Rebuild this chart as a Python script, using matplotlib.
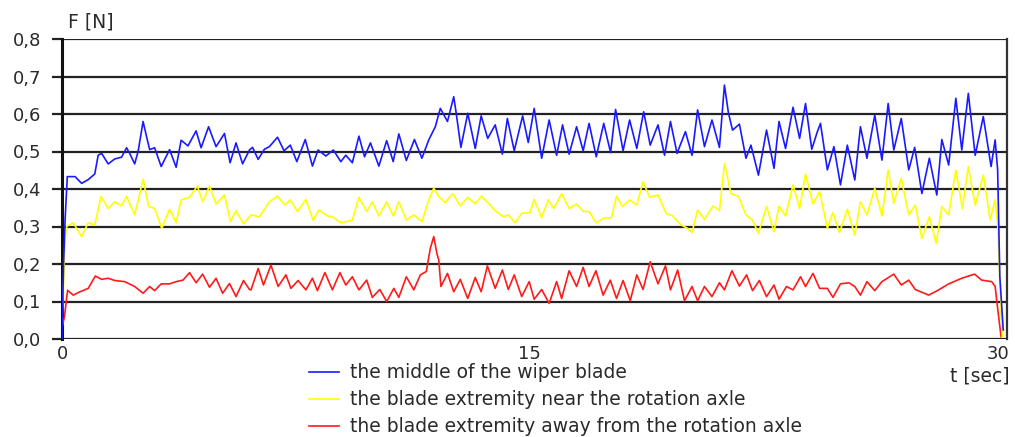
import matplotlib
matplotlib.use("Agg")
import matplotlib.pyplot as plt
from matplotlib.ticker import FuncFormatter

plt.rcParams["font.family"] = ["DejaVu Sans"]

# ── data: time [s] and force [N] ────────────────────────────────────────────
t_mid = [0.0, 0.05, 0.10, 0.17, 0.42, 0.63, 0.84, 1.05, 1.16, 1.27, 1.48, 1.69, 1.91,
         2.07, 2.17, 2.33, 2.44, 2.60, 2.71, 2.81, 2.97, 3.18, 3.45, 3.66, 3.82, 4.04,
         4.30, 4.46, 4.70, 4.94, 5.21, 5.39, 5.58, 5.79, 6.01, 6.11, 6.29, 6.49, 6.65,
         6.91, 7.12, 7.32, 7.53, 7.80, 8.03, 8.21, 8.46, 8.70, 8.94, 9.10, 9.31, 9.52,
         9.70, 9.89, 10.16, 10.41, 10.62, 10.80, 11.04, 11.30, 11.54, 11.76, 11.97,
         12.13, 12.36, 12.56, 12.64, 12.79, 13.01, 13.25, 13.44, 13.65, 13.89, 14.12,
         14.28, 14.50, 14.77, 14.95, 15.14, 15.38, 15.62, 15.86, 16.05, 16.26, 16.50,
         16.71, 16.90, 17.13, 17.37, 17.59, 17.75, 17.99, 18.20, 18.43, 18.65, 18.86,
         19.11, 19.32, 19.51, 19.72, 19.99, 20.20, 20.38, 20.60, 20.84, 21.08, 21.24,
         21.37, 21.50, 21.72, 21.93, 22.09, 22.33, 22.59, 22.83, 22.99, 23.20, 23.44,
         23.65, 23.84, 24.04, 24.22, 24.32, 24.54, 24.75, 24.96, 25.18, 25.42, 25.60,
         25.81, 26.06, 26.29, 26.49, 26.67, 26.91, 27.15, 27.34, 27.57, 27.81, 28.05,
         28.21, 28.43, 28.66, 28.85, 29.06, 29.28, 29.54, 29.79, 29.92, 30.00, 30.07,
         30.18]
f_mid = [0.0, 0.20, 0.32, 0.433, 0.433, 0.415, 0.425, 0.44, 0.49, 0.495, 0.467, 0.48,
         0.485, 0.51, 0.495, 0.467, 0.50, 0.58, 0.54, 0.505, 0.51, 0.46, 0.505, 0.458,
         0.53, 0.515, 0.555, 0.51, 0.566, 0.513, 0.548, 0.47, 0.523, 0.467, 0.504,
         0.511, 0.479, 0.506, 0.513, 0.538, 0.502, 0.517, 0.473, 0.532, 0.461, 0.504,
         0.488, 0.504, 0.473, 0.49, 0.47, 0.541, 0.486, 0.523, 0.461, 0.529, 0.473,
         0.547, 0.476, 0.532, 0.482, 0.531, 0.566, 0.615, 0.58, 0.646, 0.602, 0.511,
         0.602, 0.508, 0.595, 0.535, 0.571, 0.493, 0.588, 0.502, 0.595, 0.524, 0.615,
         0.482, 0.584, 0.49, 0.571, 0.493, 0.566, 0.502, 0.575, 0.486, 0.575, 0.497,
         0.612, 0.502, 0.584, 0.508, 0.606, 0.517, 0.571, 0.49, 0.58, 0.495, 0.553,
         0.49, 0.611, 0.513, 0.584, 0.511, 0.677, 0.602, 0.557, 0.573, 0.482, 0.517,
         0.437, 0.557, 0.455, 0.58, 0.508, 0.618, 0.535, 0.628, 0.506, 0.553, 0.575,
         0.451, 0.513, 0.411, 0.517, 0.424, 0.566, 0.482, 0.597, 0.477, 0.628, 0.504,
         0.588, 0.451, 0.511, 0.388, 0.482, 0.384, 0.532, 0.464, 0.642, 0.504, 0.655,
         0.49, 0.593, 0.46, 0.531, 0.451, 0.166, 0.024]

t_near = [0.0, 0.05, 0.10, 0.15, 0.36, 0.63, 0.84, 1.05, 1.25, 1.48, 1.69, 1.91, 2.07,
          2.33, 2.60, 2.78, 2.97, 3.20, 3.45, 3.66, 3.82, 4.09, 4.34, 4.51, 4.73, 4.94,
          5.21, 5.40, 5.58, 5.82, 6.01, 6.06, 6.33, 6.65, 6.91, 7.15, 7.32, 7.55, 7.82,
          8.05, 8.24, 8.51, 8.67, 8.94, 9.31, 9.52, 9.77, 9.95, 10.16, 10.41, 10.62,
          10.80, 11.04, 11.28, 11.54, 11.76, 11.92, 12.08, 12.29, 12.53, 12.77, 13.01,
          13.25, 13.44, 13.67, 13.92, 14.15, 14.31, 14.53, 14.74, 15.00, 15.14, 15.38,
          15.59, 15.77, 16.02, 16.26, 16.50, 16.71, 16.90, 17.13, 17.37, 17.62, 17.78,
          17.97, 18.20, 18.43, 18.63, 18.84, 19.11, 19.37, 19.58, 19.85, 20.06, 20.20,
          20.38, 20.60, 20.88, 21.08, 21.24, 21.45, 21.69, 21.93, 22.14, 22.33, 22.59,
          22.83, 22.99, 23.20, 23.44, 23.65, 23.84, 24.08, 24.29, 24.54, 24.72, 24.93,
          25.18, 25.42, 25.60, 25.81, 26.06, 26.29, 26.49, 26.67, 26.91, 27.15, 27.36,
          27.57, 27.81, 28.03, 28.21, 28.43, 28.66, 28.87, 29.06, 29.28, 29.54, 29.76,
          29.92, 30.00, 30.04, 30.15]
f_near = [0.05, 0.15, 0.27, 0.30, 0.31, 0.273, 0.31, 0.304, 0.38, 0.348, 0.366, 0.355,
          0.38, 0.331, 0.426, 0.353, 0.348, 0.295, 0.346, 0.31, 0.371, 0.378, 0.408,
          0.366, 0.408, 0.36, 0.384, 0.313, 0.342, 0.307, 0.326, 0.331, 0.326, 0.366,
          0.381, 0.357, 0.371, 0.34, 0.372, 0.317, 0.344, 0.328, 0.326, 0.31, 0.317,
          0.378, 0.34, 0.366, 0.328, 0.366, 0.328, 0.366, 0.317, 0.331, 0.313, 0.371,
          0.402, 0.38, 0.364, 0.388, 0.355, 0.378, 0.36, 0.381, 0.362, 0.34, 0.326,
          0.331, 0.31, 0.335, 0.337, 0.372, 0.324, 0.371, 0.348, 0.388, 0.348, 0.36,
          0.34, 0.34, 0.31, 0.322, 0.324, 0.381, 0.353, 0.371, 0.357, 0.42, 0.378,
          0.384, 0.335, 0.328, 0.304, 0.295, 0.284, 0.344, 0.319, 0.355, 0.342, 0.468,
          0.388, 0.38, 0.331, 0.317, 0.282, 0.353, 0.286, 0.355, 0.328, 0.411, 0.348,
          0.44, 0.36, 0.393, 0.295, 0.337, 0.284, 0.346, 0.277, 0.366, 0.331, 0.402,
          0.328, 0.451, 0.362, 0.428, 0.331, 0.357, 0.268, 0.326, 0.255, 0.353, 0.331,
          0.451, 0.348, 0.46, 0.357, 0.437, 0.317, 0.371, 0.308, 0.22, 0.006]

t_away = [0.0, 0.08, 0.18, 0.36, 0.58, 0.84, 1.07, 1.27, 1.48, 1.69, 2.01, 2.33, 2.60,
          2.81, 2.97, 3.18, 3.45, 3.66, 3.88, 4.09, 4.30, 4.51, 4.73, 4.94, 5.15, 5.37,
          5.58, 5.82, 6.01, 6.06, 6.29, 6.46, 6.70, 6.93, 7.18, 7.34, 7.57, 7.82, 8.03,
          8.19, 8.43, 8.67, 8.91, 9.10, 9.31, 9.52, 9.77, 9.95, 10.19, 10.41, 10.64,
          10.80, 11.04, 11.28, 11.49, 11.68, 11.81, 11.92, 12.02, 12.08, 12.15, 12.36,
          12.56, 12.77, 13.01, 13.25, 13.44, 13.64, 13.89, 14.12, 14.31, 14.50, 14.74,
          14.98, 15.14, 15.38, 15.62, 15.86, 16.02, 16.26, 16.50, 16.71, 16.90, 17.12,
          17.35, 17.58, 17.78, 17.99, 18.22, 18.43, 18.63, 18.86, 19.11, 19.35, 19.51,
          19.74, 19.96, 20.20, 20.38, 20.60, 20.84, 21.08, 21.24, 21.48, 21.72, 21.95,
          22.14, 22.36, 22.59, 22.83, 22.99, 23.23, 23.44, 23.68, 23.84, 24.08, 24.29,
          24.54, 24.72, 24.96, 25.23, 25.42, 25.60, 25.81, 26.06, 26.29, 26.67, 26.91,
          27.15, 27.36, 27.79, 28.11, 28.43, 28.85, 29.26, 29.49, 29.81, 29.92, 30.00,
          30.11]
f_away = [0.03, 0.06, 0.13, 0.117, 0.126, 0.135, 0.168, 0.159, 0.162, 0.156, 0.153,
          0.14, 0.122, 0.14, 0.129, 0.147, 0.147, 0.153, 0.157, 0.177, 0.15, 0.173,
          0.138, 0.162, 0.122, 0.148, 0.113, 0.156, 0.132, 0.131, 0.188, 0.144, 0.197,
          0.14, 0.171, 0.135, 0.156, 0.131, 0.162, 0.129, 0.177, 0.131, 0.177, 0.144,
          0.166, 0.131, 0.157, 0.111, 0.132, 0.10, 0.135, 0.111, 0.166, 0.131, 0.171,
          0.18, 0.242, 0.273, 0.228, 0.211, 0.14, 0.175, 0.126, 0.159, 0.108, 0.164,
          0.126, 0.195, 0.135, 0.184, 0.132, 0.171, 0.113, 0.153, 0.106, 0.132, 0.095,
          0.153, 0.108, 0.182, 0.14, 0.191, 0.14, 0.182, 0.117, 0.157, 0.108, 0.156,
          0.102, 0.171, 0.132, 0.206, 0.147, 0.195, 0.131, 0.184, 0.102, 0.14, 0.102,
          0.14, 0.113, 0.15, 0.131, 0.182, 0.141, 0.171, 0.129, 0.156, 0.113, 0.144,
          0.106, 0.14, 0.131, 0.166, 0.14, 0.175, 0.135, 0.135, 0.111, 0.147, 0.15,
          0.14, 0.117, 0.153, 0.129, 0.153, 0.173, 0.144, 0.157, 0.132, 0.117, 0.131,
          0.147, 0.162, 0.173, 0.157, 0.153, 0.14, 0.082, 0.006]

labels = ["the middle of the wiper blade",
          "the blade extremity near the rotation axle",
          "the blade extremity away from the rotation axle"]
y_ticks = [0.0, 0.1, 0.2, 0.3, 0.4, 0.5, 0.6, 0.7, 0.8]
x_ticks = [0, 15, 30]

# ── figure ───────────────────────────────────────────────────────────────────
W, H = 1015, 437
TXT = "#2a2a2a"
fig = plt.figure(figsize=(W / 100, H / 100), dpi=100)
ax = fig.add_axes([62 / W, 1 - 339 / H, (1007 - 62) / W, 300 / H])

for y in y_ticks:
    ax.axhline(y, color="#222222", linewidth=1.6, zorder=1)

l_away, = ax.plot(t_away, f_away, color="#ff1a1a", linewidth=1.2, zorder=3)
l_near, = ax.plot(t_near, f_near, color="#ffff00", linewidth=1.2, zorder=4)
l_mid, = ax.plot(t_mid, f_mid, color="#1a1aff", linewidth=1.2, zorder=5)

ax.set_xlim(0, 30.3)
ax.set_ylim(0, 0.8)
ax.set_yticks(y_ticks)
ax.yaxis.set_major_formatter(FuncFormatter(lambda v, p: f"{v:.1f}".replace(".", ",")))
ax.set_xticks(x_ticks)
ax.set_xticklabels([str(x) for x in x_ticks])
ax.tick_params(axis="y", length=7, width=1.6, color="#222222", pad=8,
               labelsize=13, labelcolor=TXT)
ax.tick_params(axis="x", length=0, pad=4, labelsize=13, labelcolor=TXT)

for side in ["top", "bottom"]:
    ax.spines[side].set_visible(False)
ax.spines["left"].set_linewidth(2.2)
ax.spines["left"].set_color("#111111")
ax.spines["right"].set_linewidth(1.6)
ax.spines["right"].set_color("#333333")

fig.text(68 / W, 1 - 22 / H, "F [N]", fontsize=13.5, color=TXT,
         ha="left", va="center")
fig.text(1010 / W, 1 - 376 / H, "t [sec]", fontsize=13.5, color=TXT,
         ha="right", va="center")

fig.legend([l_mid, l_near, l_away], labels, loc="upper left",
           bbox_to_anchor=(300 / W, 1 - 354 / H), frameon=False, fontsize=13.5,
           handlelength=1.6, handletextpad=0.55, labelspacing=0.42,
           borderpad=0.0, labelcolor=TXT)

fig.savefig("out.png", dpi=100)
